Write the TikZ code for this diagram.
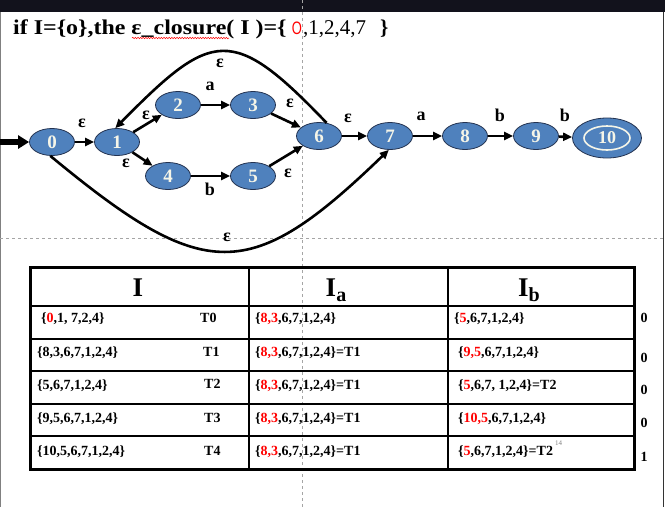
\documentclass[tikz,border=0pt]{standalone}
\usepackage{fontspec}
\setmainfont{Liberation Serif}
\newfontfamily\arialf{Liberation Sans}
\usetikzlibrary{shapes.geometric,arrows.meta,decorations.pathmorphing}
\definecolor{nodeblue}{RGB}{79,129,189}
\definecolor{nodeline}{RGB}{35,50,80}
\definecolor{nodetext}{RGB}{245,245,232}
\definecolor{topbar}{RGB}{18,18,28}
\definecolor{guide}{RGB}{165,165,165}
\begin{document}
\begin{tikzpicture}[x=1pt,y=-1pt,
  state/.style={ellipse, draw=nodeline, line width=0.8pt, fill=nodeblue,
    minimum width=45pt, minimum height=27pt, inner sep=0pt, text=nodetext,
    font=\fontsize{19}{19}\selectfont\bfseries},
  trans/.style={line width=2.6pt, -{Triangle[length=9pt,width=8pt]}},
  lbl/.style={font=\fontsize{18}{18}\selectfont\bfseries, inner sep=0pt},
  cell/.style={anchor=base west, inner sep=0pt, font=\fontsize{14}{16}\selectfont\bfseries},
  outv/.style={anchor=base, inner sep=0pt, font=\fontsize{14}{16}\selectfont\bfseries},
  hdr/.style={anchor=base, inner sep=0pt, font=\fontsize{27}{27}\selectfont\bfseries},
  guideline/.style={guide, dashed, line width=0.7pt},
  tabthin/.style={line width=1.5pt},
  tabthick/.style={line width=3pt}
]
\useasboundingbox (0,0) rectangle (665,507);
\fill[white] (0,0) rectangle (665,507);
% slide frame
\fill[topbar] (0,0) rectangle (665,12);
\draw[gray, line width=1.2pt] (0.6,12) -- (0.6,507);
\draw[black!80, line width=1.5pt] (663.5,12) -- (663.5,507);
% guides
\draw[guideline] (302,0) -- (302,507);
\draw[guideline] (0,238) -- (663,238);

% title
\node[anchor=base west, inner sep=0pt, font=\fontsize{21}{21}\selectfont\bfseries] (title) at (13,34)
  {\scalebox{1.14}[1]{if I=\{o\},the ε\_closure( I )=\{}};
\node[anchor=base, inner sep=0pt, text=red, font=\arialf\fontsize{18}{18}\selectfont] (redo) at (297,34) {\scalebox{0.72}[1]{O}};
\node[anchor=base west, inner sep=0pt, font=\fontsize{21}{21}\selectfont] (tnums) at (303,34) {,1,2,4,7};
\node[anchor=base west, inner sep=0pt, font=\fontsize{21}{21}\selectfont\bfseries] (tclose) at (380,34) {\}};
\draw[red, line width=0.5pt, decorate, decoration={snake, amplitude=0.7pt, segment length=2.6pt}] (132,38) -- (229,38);

% states
\node[state] (n0) at (52,142) {0};
\node[state] (n1) at (117,142) {1};
\node[state] (n2) at (178,105) {2};
\node[state] (n3) at (253,105) {3};
\node[state] (n4) at (168,176) {4};
\node[state] (n5) at (253,176) {5};
\node[state] (n6) at (319,136) {6};
\node[state] (n7) at (390,136) {7};
\node[state] (n8) at (465,136) {8};
\node[state] (n9) at (536,136) {9};
\node[state, minimum width=69pt, minimum height=40pt] (n10) at (607,138) {};
\node[ellipse, draw=nodetext, line width=1.6pt, minimum width=46pt, minimum height=24pt, inner sep=0pt,
  text=nodetext, font=\fontsize{18}{18}\selectfont\bfseries] (n10in) at (n10.center) {10};

% start arrow
\coordinate (start) at (0,142);
\draw[line width=6pt, -{Triangle[length=11pt,width=13pt]}] (start) -- (n0.west);

% transitions
\draw[trans] (n0) -- (n1);
\draw[trans] (n1) -- (n2);
\draw[trans] (n1) -- (n4);
\draw[trans] (n2) -- (n3);
\draw[trans] (n4) -- (n5);
\draw[trans] (n3) -- (n6);
\draw[trans] (n5) -- (n6);
\draw[trans] (n6) -- (n7);
\draw[trans] (n7) -- (n8);
\draw[trans] (n8) -- (n9);
\draw[trans] (n9) -- (n10);
\draw[trans] (n6.60) .. controls (232,24) and (212,30) .. (n1.97);
\draw[trans] (n0.-97) .. controls (205,284) and (250,284) .. (n7.-95);

% labels
\node[lbl] (l01) at (82,123) {ε};
\node[lbl] (l12) at (146,115) {ε};
\node[lbl] (l14) at (126,163) {ε};
\node[lbl] (l23) at (210,86) {a};
\node[lbl] (l45) at (210,189) {b};
\node[lbl] (l36) at (290,103) {ε};
\node[lbl] (l56) at (288,173) {ε};
\node[lbl] (l61) at (220,63) {ε};
\node[lbl] (l07) at (227,237) {ε};
\node[lbl] (l67) at (348,118) {ε};
\node[lbl] (l78) at (421,116) {a};
\node[lbl] (l89) at (500,115) {b};
\node[lbl] (l910) at (565,115) {b};

% table
\draw[tabthin] (30,306) -- (634,306);
\draw[tabthin] (30,339) -- (634,339);
\draw[tabthin] (30,371) -- (634,371);
\draw[tabthin] (30,404) -- (634,404);
\draw[tabthin] (30,436) -- (634,436);
\draw[tabthin] (249,267) -- (249,469);
\draw[tabthin] (448,267) -- (448,469);
\draw[tabthick] (30,267) rectangle (634,469);

\node[hdr] (hI) at (138,296) {I};
\node[hdr] (hIa) at (336,296) {I\raisebox{-5pt}{\fontsize{20}{20}\selectfont a}};
\node[hdr] (hIb) at (529,296) {I\raisebox{-5pt}{\fontsize{20}{20}\selectfont b}};

% column I
\node[cell] (c11) at (41,322) {\{\textcolor{red}{0},1, 7,2,4\}};
\node[cell] (c21) at (37,356) {\{8,3,6,7,1,2,4\}};
\node[cell] (c31) at (37,389) {\{5,6,7,1,2,4\}};
\node[cell] (c41) at (37,422) {\{9,5,6,7,1,2,4\}};
\node[cell] (c51) at (37,455) {\{10,5,6,7,1,2,4\}};
% T labels
\node[cell] (t0) at (200,322) {T0};
\node[cell] (t1) at (203,356) {T1};
\node[cell] (t2) at (204,388) {T2};
\node[cell] (t3) at (204,422) {T3};
\node[cell] (t4) at (204,455) {T4};
% column Ia
\node[cell] (c12) at (255,322) {\{\textcolor{red}{8,3},6,7,1,2,4\}};
\node[cell] (c22) at (255,356) {\{\textcolor{red}{8,3},6,7,1,2,4\}=T1};
\node[cell] (c32) at (255,389) {\{\textcolor{red}{8,3},6,7,1,2,4\}=T1};
\node[cell] (c42) at (255,422) {\{\textcolor{red}{8,3},6,7,1,2,4\}=T1};
\node[cell] (c52) at (255,455) {\{\textcolor{red}{8,3},6,7,1,2,4\}=T1};
% column Ib
\node[cell] (c13) at (454,322) {\{\textcolor{red}{5},6,7,1,2,4\}};
\node[cell] (c23) at (458,356) {\{\textcolor{red}{9,5},6,7,1,2,4\}};
\node[cell] (c33) at (458,389) {\{\textcolor{red}{5},6,7, 1,2,4\}=T2};
\node[cell] (c43) at (458,422) {\{\textcolor{red}{10,5},6,7,1,2,4\}};
\node[cell] (c53) at (458,455) {\{\textcolor{red}{5},6,7,1,2,4\}=T2};
\node[anchor=base west, inner sep=0pt, text=gray, font=\fontsize{7}{7}\selectfont] (pg) at (555,445) {14};
% outputs
\node[outv] (o1) at (644,322) {0};
\node[outv] (o2) at (644,362) {0};
\node[outv] (o3) at (644,394) {0};
\node[outv] (o4) at (644,427) {0};
\node[outv] (o5) at (644,461) {1};
\end{tikzpicture}
\end{document}
